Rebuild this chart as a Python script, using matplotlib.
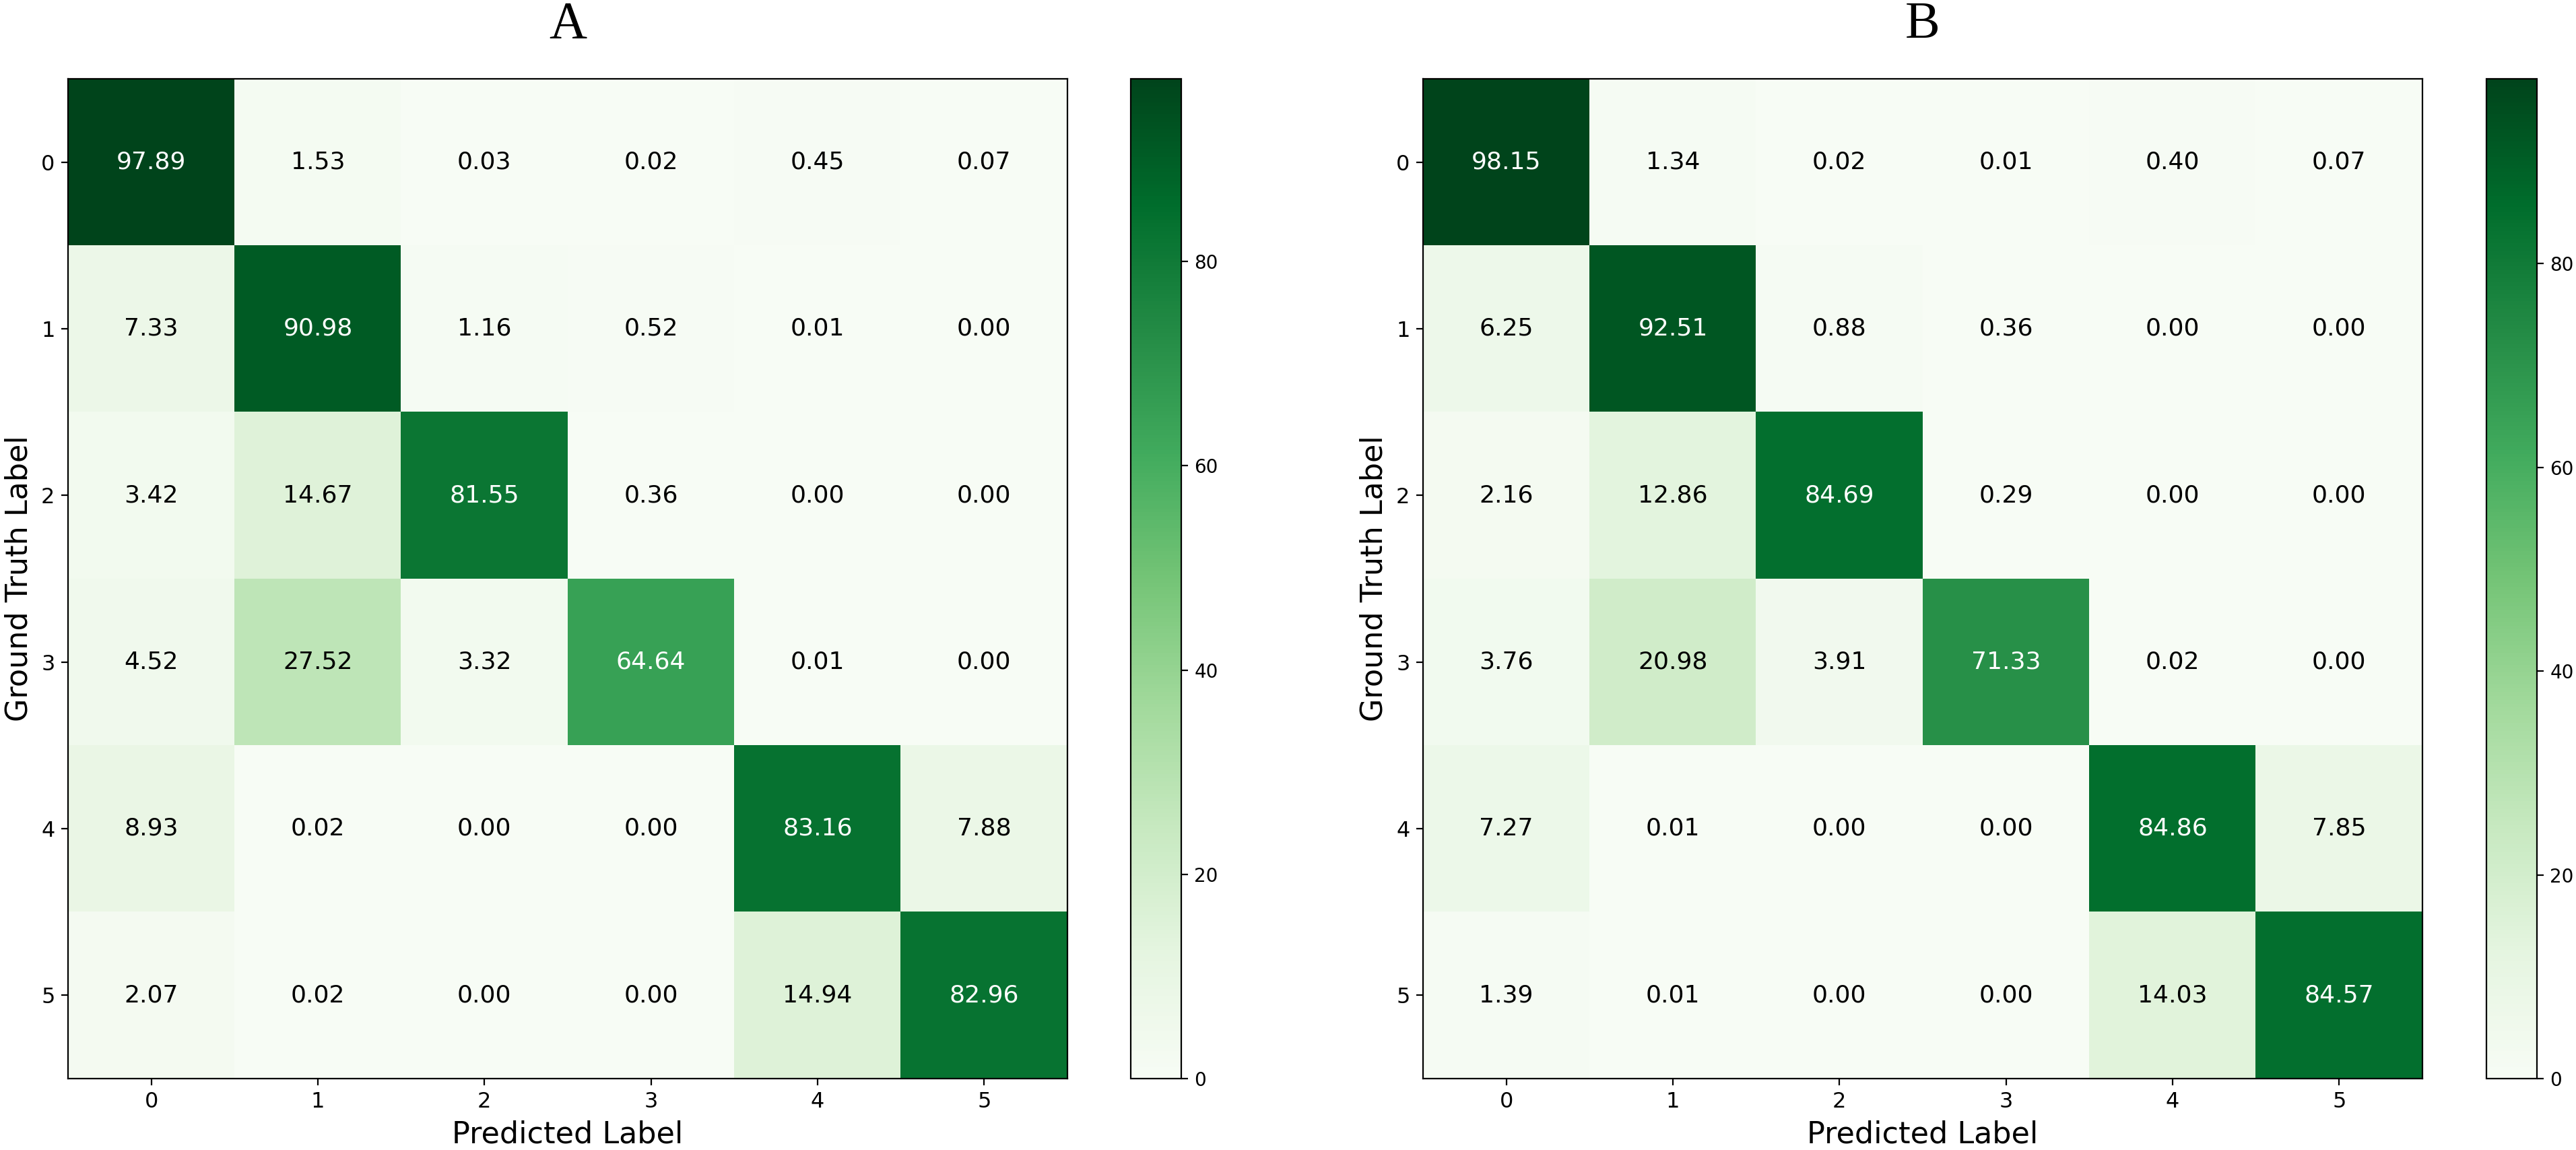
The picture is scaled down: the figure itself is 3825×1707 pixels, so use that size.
import numpy as np
import matplotlib
matplotlib.use("Agg")
from matplotlib import pyplot as plt

classes = ["0", "1", "2", "3", "4", "5"]

# Matriz de confusao (%) - modelo A
cm_a = np.array([
    [97.89, 1.53, 0.03, 0.02, 0.45, 0.07],
    [7.33, 90.98, 1.16, 0.52, 0.01, 0.00],
    [3.42, 14.67, 81.55, 0.36, 0.00, 0.00],
    [4.52, 27.52, 3.32, 64.64, 0.01, 0.00],
    [8.93, 0.02, 0.00, 0.00, 83.16, 7.88],
    [2.07, 0.02, 0.00, 0.00, 14.94, 82.96],
])

# Matriz de confusao (%) - modelo B
cm_b = np.array([
    [98.15, 1.34, 0.02, 0.01, 0.40, 0.07],
    [6.25, 92.51, 0.88, 0.36, 0.00, 0.00],
    [2.16, 12.86, 84.69, 0.29, 0.00, 0.00],
    [3.76, 20.98, 3.91, 71.33, 0.02, 0.00],
    [7.27, 0.01, 0.00, 0.00, 84.86, 7.85],
    [1.39, 0.01, 0.00, 0.00, 14.03, 84.57],
])

titles = ["A", "B"]

W, H = 3825, 1707
fig = plt.figure(figsize=(W / 200, H / 200), dpi=200)


def pos(x0, y0, w, h):
    # pixel box (top-left origin) -> figure fraction
    return [x0 / W, (H - y0 - h) / H, w / W, h / H]


layout = [
    (pos(101, 117, 1484, 1484), pos(1679, 117, 75, 1484)),
    (pos(2113, 117, 1484, 1484), pos(3692, 117, 75, 1484)),
]

for cm, title, (ax_box, cb_box) in zip([cm_a, cm_b], titles, layout):
    ax = fig.add_axes(ax_box)
    cax = fig.add_axes(cb_box)
    im = ax.imshow(cm, cmap="Greens", vmin=0, vmax=cm.max(),
                   interpolation="nearest", aspect="auto")
    thresh = (cm.max() + cm.min()) / 2
    for i in range(len(classes)):
        for j in range(len(classes)):
            cor = "white" if cm[i, j] > thresh else "black"
            ax.text(j, i, f"{cm[i, j]:.2f}", ha="center", va="center",
                    color=cor, fontsize=13)
    ax.set_xticks(range(len(classes)), classes, fontsize=11.5)
    ax.set_yticks(range(len(classes)), classes, fontsize=11.5)
    ax.set_xlabel("Predicted Label", fontsize=16)
    ax.set_ylabel("Ground Truth Label", fontsize=16)
    ax.set_title(title, fontsize=28, family="Liberation Serif", pad=22)
    cb = fig.colorbar(im, cax=cax)
    cb.set_ticks([0, 20, 40, 60, 80])
    cb.ax.tick_params(labelsize=10)

plt.savefig("out.png", dpi=200)
